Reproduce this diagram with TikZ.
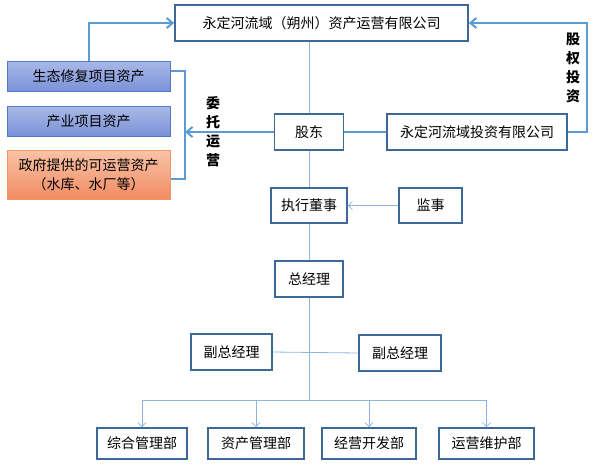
\documentclass[tikz,border=0pt]{standalone}
\usepackage{fontspec}
\newfontfamily\cjk{Noto Sans CJK SC}
\usetikzlibrary{arrows.meta}
\definecolor{boxline}{RGB}{62,104,150}
\definecolor{thickblue}{RGB}{91,155,213}
\definecolor{thinblue}{RGB}{140,180,225}
\definecolor{assetline}{RGB}{85,122,200}
\definecolor{govline}{RGB}{240,150,100}
\begin{document}
\begin{tikzpicture}[x=1pt, y=-1pt,
  font=\cjk\fontsize{14}{17}\selectfont,
  unit/.style={draw=boxline, line width=1.6pt, fill=white, inner sep=1pt, minimum height=36pt},
  asset/.style={draw=assetline, line width=1pt, top color={rgb,255:red,168;green,184;blue,230}, bottom color={rgb,255:red,124;green,146;blue,216}, minimum width=163pt, minimum height=30pt, inner sep=1pt},
  govasset/.style={draw=govline, line width=1pt, top color={rgb,255:red,249;green,195;blue,168}, bottom color={rgb,255:red,241;green,140;blue,98}, minimum width=163pt, minimum height=49pt, inner sep=1pt, align=center, font=\cjk\fontsize{14}{19}\selectfont},
  fatline/.style={draw=thickblue, line width=2pt},
  thinline/.style={draw=thinblue, line width=0.8pt},
  vlabel/.style={align=center, font=\cjk\bfseries\fontsize{14}{19}\selectfont}]
\useasboundingbox (0,0) rectangle (599,466);
% top level
\node[unit, minimum width=293pt] (corp) at (321.5,23){永定河流域（朔州）资产运营有限公司};
\node[unit, minimum width=69pt] (holder) at (309,132){股东};
\node[unit, minimum width=180pt] (invest) at (477,132){永定河流域投资有限公司};
% assets
\node[asset] (eco) at (88.5,76){生态修复项目资产};
\node[asset] (ind) at (88.5,121){产业项目资产};
\node[govasset] (gov) at (88.5,174.5){政府提供的可运营资产\\（水库、水厂等）};
\coordinate (brtop) at (185,71);
\coordinate (brbot) at (185,179);
\coordinate (brmid) at (185,132);
\draw[fatline] (eco.east |- brtop) -- (brtop) -- (brbot) -- (gov.east |- brbot);
\draw[fatline, -{Straight Barb[length=6pt, width=10pt]}] (holder.west) -- (brmid);
\draw[fatline, -{Straight Barb[length=6pt, width=10pt]}] (eco.north) |- (corp.west);
\node[vlabel] (entrust) at (213,132){委\\托\\运\\营};
% equity investment
\coordinate (eqturn) at (587,132);
\draw[fatline] (holder.east) -- (invest.west);
\draw[fatline, -{Straight Barb[length=6pt, width=10pt]}] (invest.east) -- (eqturn) |- (corp.east);
\node[vlabel] (equity) at (573,68){股\\权\\投\\资};
% management
\node[unit, minimum width=76pt, minimum height=35pt] (exec) at (309,205.5){执行董事};
\node[unit, minimum width=63pt, minimum height=35pt] (super) at (430.5,205.5){监事};
\node[unit, minimum width=68pt] (gm) at (309,279){总经理};
\node[unit, minimum width=81pt] (vgma) at (231.5,352){副总经理};
\node[unit, minimum width=82pt] (vgmb) at (400,353){副总经理};
\draw[thinline] (holder.north) -- (holder.north |- corp.south);
\draw[thinline] (holder) -- (exec);
\draw[thinline, -{Straight Barb[length=4pt, width=8pt]}] (super) -- (exec);
\draw[thinline] (exec) -- (gm);
\draw[thinline] (vgma.east) -- (vgmb.west);
% departments
\node[unit, minimum width=90pt, minimum height=31pt] (dept1) at (142,443.5){综合管理部};
\node[unit, minimum width=96pt, minimum height=31pt] (dept2) at (256,443.5){资产管理部};
\node[unit, minimum width=94pt, minimum height=31pt] (dept3) at (369,443.5){经营开发部};
\node[unit, minimum width=95pt, minimum height=31pt] (dept4) at (486.5,443.5){运营维护部};
\coordinate (bus) at (309,400);
\draw[thinline] (gm.south) -- (bus);
\draw[thinline] (dept1.north |- bus) -- (dept4.north |- bus);
\foreach \d in {dept1,dept2,dept3,dept4}
  \draw[thinline, -{Straight Barb[length=4pt, width=8pt]}] (\d.north |- bus) -- (\d.north);
\end{tikzpicture}
\end{document}
